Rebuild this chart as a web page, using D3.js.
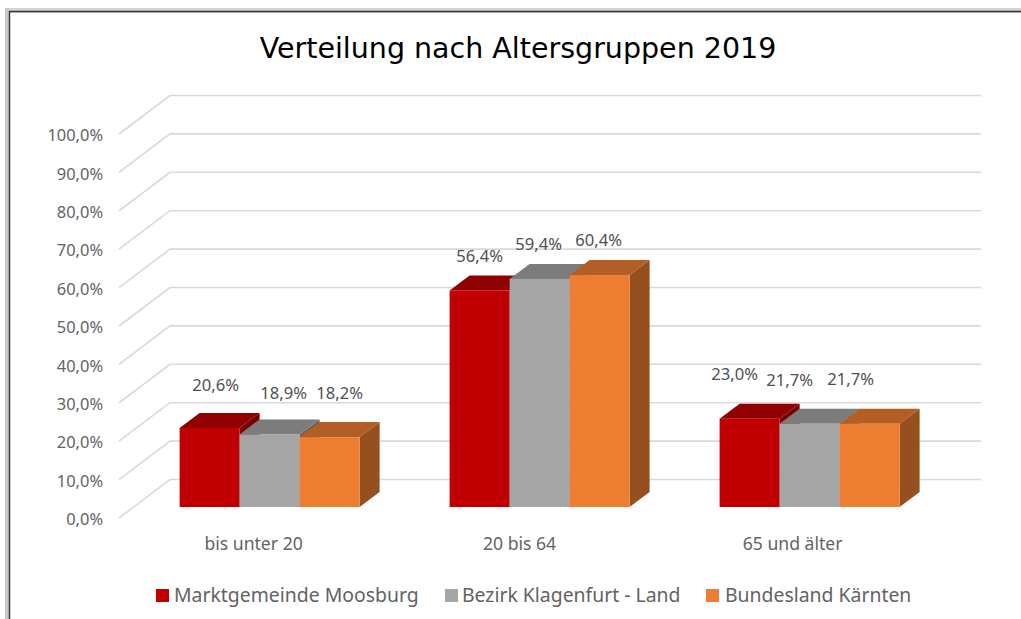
<!DOCTYPE html>
<html><head><meta charset="utf-8">
<script src="https://cdn.jsdelivr.net/npm/d3@7/dist/d3.min.js"></script>
<style>html,body{margin:0;padding:0;background:#fff;overflow:hidden}svg{display:block}</style>
</head><body><svg id="c" width="1021" height="619"></svg>
<script>
const categories = ["bis unter 20", "20 bis 64", "65 und älter"];
const seriesNames = ["Marktgemeinde Moosburg", "Bezirk Klagenfurt - Land", "Bundesland Kärnten"];
const moosburg = [20.6, 56.4, 23.0];
const klagenfurt = [18.9, 59.4, 21.7];
const kaernten = [18.2, 60.4, 21.7];
const tickValues = [0,10,20,30,40,50,60,70,80,90,100];
const titleText = "Verteilung nach Altersgruppen 2019";

const seriesValues = [moosburg, klagenfurt, kaernten];
const frontCol = ["#c00000", "#a5a5a5", "#ed7d31"];
const topCol = ["#900000", "#7c7c7c", "#b25e25"];
const sideCol = ["#7a0000", "#636363", "#964f1e"];
const labelFont = "'Noto Sans', sans-serif";
const fmt = v => d3.format(".1f")(v).replace(".", ",") + "%";
const pct = v => fmt(v);

const svg = d3.select("#c");

// window frame
svg.append("rect").attr("x",5).attr("y",8).attr("width",1016).attr("height",5).attr("fill","#d4d4d4");
svg.append("rect").attr("x",5).attr("y",8).attr("width",4).attr("height",611).attr("fill","#c8c8c8");
svg.append("path").attr("d","M9.5,619V11.5H1021").attr("fill","none").attr("stroke","#333").attr("stroke-width",1.4);

svg.append("text").attr("x",518).attr("y",58).attr("text-anchor","middle")
  .attr("font-family","'DejaVu Sans', sans-serif").attr("font-size",28.5).attr("fill","#000").text(titleText);

// scales
const plotHeightPerPct = 3.84;
const y = d3.scaleLinear().domain([0,100]).range([518, 518 - 100*plotHeightPerPct]);
const backDx = 51, backDy = -38.5, rightX = 981, frontX = 119;

// walls / gridlines
svg.append("g").selectAll("path").data(tickValues).join("path")
  .attr("d", t => `M${frontX},${y(t)}L${frontX+backDx},${y(t)+backDy}H${rightX}`)
  .attr("fill","none").attr("stroke","#d9d9d9").attr("stroke-width",1.6);

// value axis labels
const axis = d3.axisLeft(y).tickValues(tickValues).tickFormat(pct).tickSize(0).tickPadding(0);
const ag = svg.append("g").attr("transform","translate(103,1.5)").call(axis);
ag.select(".domain").remove();
ag.selectAll("text").attr("font-family",labelFont).attr("font-size",16.4).attr("fill","#636363");

// bars
const x0 = d3.scaleBand().domain(categories).range([134.6, 944.6]);
const x1 = d3.scaleBand().domain(seriesNames).range([45, 225]);
const barBase = 507, depthX = 20, depthY = -15;
const h = v => y(0) - y(v);

seriesNames.forEach((s, si) => {
  const g = svg.append("g");
  categories.forEach((c, ci) => {
    const v = seriesValues[si][ci];
    const xl = x0(c) + x1(s), w = x1.bandwidth(), top = barBase - h(v);
    g.append("path").attr("fill", sideCol[si])
      .attr("d",`M${xl+w},${barBase}l${depthX},${depthY}V${top+depthY}L${xl+w},${top}Z`);
    g.append("path").attr("fill", topCol[si])
      .attr("d",`M${xl},${top}l${depthX},${depthY}h${w}l${-depthX},${-depthY}Z`);
    g.append("rect").attr("x",xl).attr("y",top).attr("width",w).attr("height",barBase-top).attr("fill",frontCol[si]);
  });
});

// data labels (the source places them by hand: per-group and per-series nudges)
const labelDy = [[-43,-41,-44],[-34,-35,-35],[-44,-43,-44]];
const labelDx = [[6,14,10],[0,-1,-1],[-15,-20,-19]];
seriesNames.forEach((s, si) => {
  categories.forEach((c, ci) => {
    const v = seriesValues[si][ci];
    svg.append("text")
      .attr("x", x0(c) + x1(s) + x1.bandwidth()/2 + labelDx[ci][si])
      .attr("y", barBase - h(v) + labelDy[ci][si])
      .attr("dy","0.35em").attr("text-anchor","middle")
      .attr("font-family",labelFont).attr("font-size",16.6).attr("fill","#505050").text(fmt(v));
  });
});

// category labels
const catDx = [-16, -20, -17];
svg.append("g").selectAll("text").data(categories).join("text")
  .attr("x",(c,i)=>x0(c)+x0.bandwidth()/2+catDx[i]).attr("y",550).attr("text-anchor","middle")
  .attr("font-family",labelFont).attr("font-size",17.6).attr("fill","#636363").text(c=>c);

// legend
const legendX = [156, 445, 706], legendTextX = [174, 462, 725];
const lg = svg.append("g");
seriesNames.forEach((s,i)=>{
  lg.append("rect").attr("x",legendX[i]).attr("y",589).attr("width",13).attr("height",13).attr("fill",frontCol[i]);
  lg.append("text").attr("x",legendTextX[i]).attr("y",602)
    .attr("font-family",labelFont).attr("font-size",19.4).attr("fill","#636363").text(s);
});
</script></body></html>
